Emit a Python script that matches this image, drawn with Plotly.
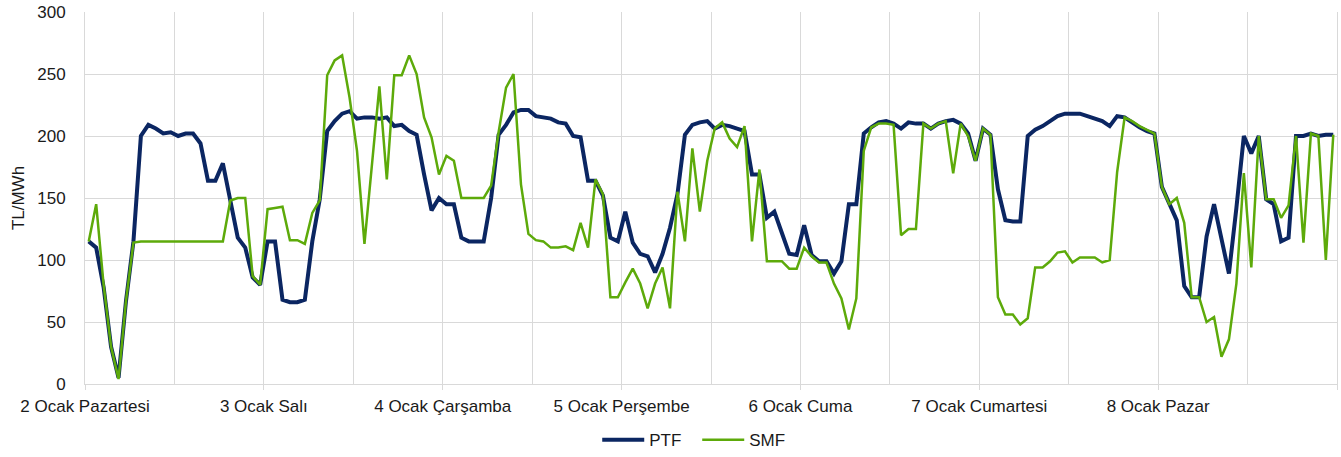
import plotly.graph_objects as go

day_labels = ["2 Ocak Pazartesi", "3 Ocak Salı", "4 Ocak Çarşamba", "5 Ocak Perşembe",
              "6 Ocak Cuma", "7 Ocak Cumartesi", "8 Ocak Pazar"]

ptf = [
    115, 110, 78, 30, 5, 67, 115, 200, 209, 206, 202, 203, 200, 202, 202, 194, 164, 164, 178, 148, 118, 110, 86, 80,
    115, 115, 68, 66, 66, 68, 115, 149, 204, 212, 218, 220, 214, 215, 215, 214, 215, 208, 209, 204, 201, 169, 140, 150,
    145, 145, 118, 115, 115, 115, 150, 201, 209, 219, 221, 221, 216, 215, 214, 211, 210, 200, 199, 164, 164, 152, 118, 115,
    139, 114, 105, 103, 90, 105, 126, 153, 201, 209, 211, 212, 206, 209, 208, 206, 204, 169, 169, 134, 139, 122, 105, 104,
    128, 104, 99, 99, 89, 99, 145, 145, 202, 207, 211, 212, 210, 206, 211, 210, 210, 206, 210, 212, 213, 210, 202, 180,
    206, 201, 157, 132, 131, 131, 200, 205, 208, 212, 216, 218, 218, 218, 216, 214, 212, 208, 216, 215, 211, 207, 204, 202,
    159, 145, 132, 79, 70, 70, 119, 145, 115, 89, 142, 200, 186, 200, 149, 145, 115, 118, 200, 200, 202, 200, 201, 201,
]

smf = [
    115, 145, 80, 30, 4, 67, 114, 115, 115, 115, 115, 115, 115, 115, 115, 115, 115, 115, 115, 148, 150, 150, 87, 80,
    141, 142, 143, 116, 116, 113, 138, 148, 249, 261, 265, 231, 188, 113, 177, 240, 165, 249, 249, 265, 250, 215, 199, 169,
    184, 180, 150, 150, 150, 150, 160, 203, 239, 250, 161, 121, 116, 115, 110, 110, 111, 108, 130, 110, 165, 153, 70, 70,
    82, 93, 81, 61, 81, 94, 61, 155, 115, 190, 139, 180, 206, 211, 198, 191, 208, 115, 173, 99, 99, 99, 93, 93,
    110, 103, 98, 98, 81, 69, 44, 69, 188, 207, 210, 210, 209, 120, 125, 125, 210, 206, 210, 212, 170, 210, 200, 180,
    206, 201, 70, 56, 56, 48, 53, 94, 94, 99, 106, 107, 98, 102, 102, 102, 98, 100, 171, 215, 212, 208, 205, 202,
    159, 145, 150, 130, 70, 70, 50, 54, 22, 36, 81, 170, 94, 200, 149, 149, 134, 144, 200, 114, 202, 200, 100, 201,
]

hours = [i + 0.5 for i in range(len(ptf))]

fig = go.Figure()
fig.add_trace(go.Scatter(x=hours, y=ptf, mode="lines", name="PTF",
                         line=dict(color="#0B2662", width=4)))
fig.add_trace(go.Scatter(x=hours, y=smf, mode="lines", name="SMF",
                         line=dict(color="#5DAA0A", width=2.5)))

tickvals = [24 * k for k in range(8)]
ticktext = day_labels + [""]

fig.update_layout(
    width=1341, height=457,
    margin=dict(l=85, r=4, t=12, b=73, autoexpand=False),
    paper_bgcolor="white", plot_bgcolor="white",
    font=dict(family="Liberation Sans, Arial, sans-serif", size=17, color="#1a1a1a"),
    showlegend=True,
    legend=dict(orientation="h", x=0.489, xanchor="center", y=-0.151, yanchor="middle",
                font=dict(size=17), itemwidth=42, entrywidth=43, entrywidthmode="pixels",
                tracegroupgap=0),
    xaxis=dict(range=[0, 168], tickvals=tickvals, ticktext=ticktext, automargin=False,
               showgrid=True, gridcolor="#D9D9D9", gridwidth=1,
               ticks="outside", ticklen=5, tickcolor="#D9D9D9", ticklabelstandoff=2,
               minor=dict(dtick=12, tick0=0, showgrid=True, gridcolor="#D9D9D9", ticks=""),
               showline=True, linecolor="#D9D9D9", linewidth=1,
               tickfont=dict(size=17),
               zeroline=False, fixedrange=True),
    yaxis=dict(range=[0, 300], dtick=50, showgrid=True, gridcolor="#D9D9D9", gridwidth=1,
               showline=True, mirror=True, linecolor="#D9D9D9", linewidth=1, automargin=False,
               zeroline=False, ticks="outside", ticklen=15, tickcolor="rgba(0,0,0,0)",
               title=dict(text="TL/MWh", font=dict(size=17), standoff=8),
               tickfont=dict(size=17), fixedrange=True),
)

fig.write_html("out.html", config={"displayModeBar": False},
               post_script="document.body.style.margin='0';")
